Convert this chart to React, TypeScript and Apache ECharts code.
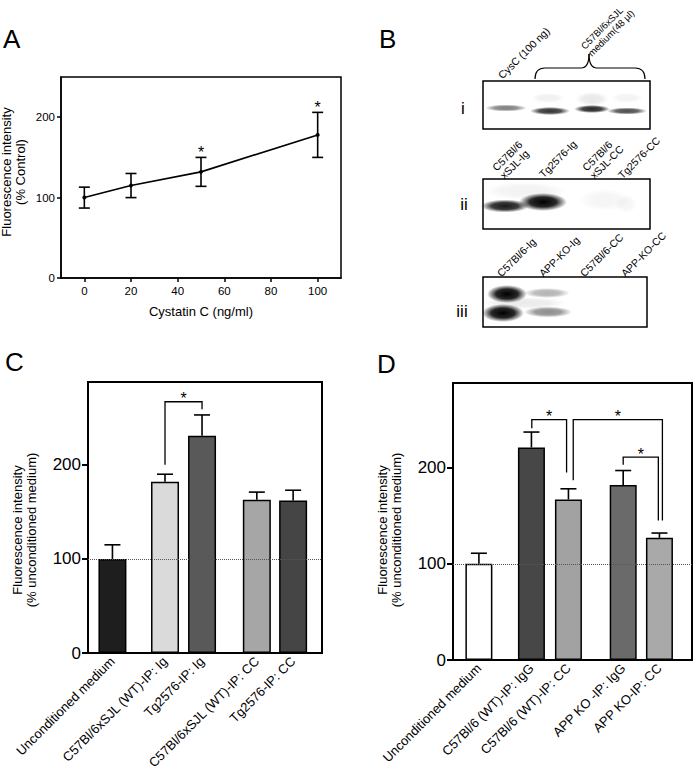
import React, { useEffect, useRef } from "react";
import * as echarts from "echarts";

const FONT = "'Liberation Sans', Arial, Helvetica, sans-serif";

// ---------- Panel A data ----------
const doseA = [0, 20, 50, 100];
const meanA = [100, 115, 132, 178];
const semA = [13, 15, 18, 28];
const sigA = [false, false, true, true];
const xTicksA = [0, 20, 40, 60, 80, 100];
const yTicks = [0, 100, 200];

// ---------- Panel C data ----------
const labelsC = [
  "Unconditioned medium",
  "C57Bl/6xSJL (WT)-IP: Ig",
  "Tg2576-IP: Ig",
  "C57Bl/6xSJL (WT)-IP: CC",
  "Tg2576-IP: CC",
];
const meanC = [100, 182, 231, 163, 162];
const semC = [15, 8, 22, 8, 11];
// [leftX, rightX, top, leftBottom, rightBottom]
const bracketsC = [[1.42, 2.42, 267, 200, 259]];

// ---------- Panel D data ----------
const labelsD = [
  "Unconditioned medium",
  "C57Bl/6 (WT)-IP: IgG",
  "C57Bl/6 (WT)-IP: CC",
  "APP KO -IP: IgG",
  "APP KO-IP: CC",
];
const meanD = [100, 221, 167, 182, 127];
const semD = [11, 16, 11, 15, 5];
const bracketsD = [
  [1.43, 2.37, 250, 241, 195],
  [2.55, 4.96, 250, 187, 145],
  [3.9, 4.85, 211, 203, 145],
];

// bar slot positions (grouped layout)
const slots = [0, 1.42, 2.42, 3.9, 4.88];

// styles
const colorsC = ["#1e1e1e", "#dadada", "#595959", "#a6a6a6", "#454545"];
const colorsD = ["#ffffff", "#474747", "#a2a2a2", "#6a6a6a", "#a9a9a9"];

function nearestIdx(v: number) {
  let best = 0;
  for (let i = 0; i < slots.length; i++) {
    if (Math.abs(slots[i] - v) < Math.abs(slots[best] - v)) best = i;
  }
  return Math.abs(slots[best] - v) < 0.05 ? best : -1;
}

function errorRenderer(capHalf: number, both: boolean, sig?: boolean[]) {
  return (params: any, api: any) => {
    const x = api.value(0);
    const m = api.value(1);
    const e = api.value(2);
    const top = api.coord([x, m + e]);
    const bot = api.coord([x, both ? m - e : m]);
    const style = { stroke: "#000", lineWidth: 1.6 };
    const children: any[] = [
      { type: "line", shape: { x1: top[0], y1: top[1], x2: bot[0], y2: bot[1] }, style },
      { type: "line", shape: { x1: top[0] - capHalf, y1: top[1], x2: top[0] + capHalf, y2: top[1] }, style },
    ];
    if (both) {
      children.push({ type: "line", shape: { x1: bot[0] - capHalf, y1: bot[1], x2: bot[0] + capHalf, y2: bot[1] }, style });
    }
    if (sig && sig[params.dataIndex]) {
      children.push({
        type: "text",
        x: top[0],
        y: top[1] - 5,
        style: { text: "*", fill: "#000", font: `16px ${FONT}`, align: "center", verticalAlign: "middle", textAlign: "center", textVerticalAlign: "middle" },
      });
    }
    return { type: "group", children };
  };
}

function bracketRenderer(params: any, api: any) {
  const x1 = api.value(0), x2 = api.value(1), yt = api.value(2), yl = api.value(3), yr = api.value(4);
  const a = api.coord([x1, yl]);
  const b = api.coord([x1, yt]);
  const c = api.coord([x2, yt]);
  const d = api.coord([x2, yr]);
  return {
    type: "group",
    children: [
      { type: "polyline", shape: { points: [a, b, c, d] }, style: { stroke: "#000", fill: null, lineWidth: 1.3 } },
      {
        type: "text",
        x: (b[0] + c[0]) / 2,
        y: b[1] - 3,
        style: { text: "*", fill: "#000", font: `16px ${FONT}`, align: "center", verticalAlign: "middle", textAlign: "center", textVerticalAlign: "middle" },
      },
    ],
  };
}

function band(cx: number, cy: number, rx: number, ry: number, a: number) {
  return {
    type: "ellipse",
    shape: { cx, cy, rx, ry },
    style: {
      fill: {
        type: "radial",
        x: 0.5,
        y: 0.5,
        r: 0.5,
        colorStops: [
          { offset: 0, color: `rgba(0,0,0,${a})` },
          { offset: 0.55, color: `rgba(0,0,0,${a * 0.85})` },
          { offset: 1, color: "rgba(0,0,0,0)" },
        ],
      },
    },
    z: 5,
  };
}

function txt(text: string, x: number, y: number, size: number, opts: any = {}) {
  const align = opts.align || "left";
  const va = opts.va || "middle";
  return {
    type: "text",
    x,
    y,
    rotation: opts.rotation || 0,
    z: 10,
    style: {
      text,
      fill: "#000",
      font: `${size}px ${FONT}`,
      align,
      verticalAlign: va,
      textAlign: align,
      textVerticalAlign: va,
      lineHeight: opts.lineHeight,
    },
  };
}

function blotBox(x: number, y: number, w: number, h: number) {
  return { type: "rect", shape: { x, y, width: w, height: h }, style: { fill: "#fff", stroke: "#000", lineWidth: 1.5 }, z: 4 };
}

function laneLabel(text: string, x: number, y: number, size = 10.5) {
  return txt(text, x, y, size, { rotation: Math.PI / 4, va: "bottom", lineHeight: size + 0.5 });
}

const axisLineStyle = { color: "#000", width: 2 };

function buildOption() {
  const braceStyle = { stroke: "#000", lineWidth: 1.2, fill: null };
  const graphic: any[] = [
    // panel letters
    txt("A", 3, 39, 26),
    txt("B", 379, 39, 26),
    txt("C", 5, 362, 26),
    txt("D", 377, 364, 26),
    // y axis names
    txt("Fluorescence intensity\n(% Control)", 13, 172, 13, { rotation: Math.PI / 2, align: "center", lineHeight: 14 }),
    txt("Fluorescence intensity\n(% unconditioned medium)", 24, 530, 13, { rotation: Math.PI / 2, align: "center", lineHeight: 14 }),
    txt("Fluorescence intensity\n(% unconditioned medium)", 389, 530, 13, { rotation: Math.PI / 2, align: "center", lineHeight: 14 }),
    // blot boxes
    blotBox(483, 81, 167, 48),
    blotBox(483, 179, 167, 50),
    blotBox(483, 277, 164, 50),
    // roman numerals
    txt("i", 463, 108, 17, { align: "center" }),
    txt("ii", 464, 204, 17, { align: "center" }),
    txt("iii", 462, 311, 17, { align: "center" }),
    // blot i bands
    band(506, 108, 21, 3.5, 0.5),
    band(550, 111, 20, 4, 0.8),
    band(592, 109, 18, 4, 0.85),
    band(627, 111, 20, 3.5, 0.7),
    band(548, 98, 17, 5, 0.06),
    band(592, 99, 16, 7, 0.09),
    band(627, 98, 16, 5, 0.05),
    // blot ii bands
    band(525, 191, 42, 9, 0.05),
    band(505, 206, 24, 6.5, 0.9),
    band(543, 202, 24, 9, 1),
    band(605, 200, 26, 11, 0.04),
    band(626, 204, 11, 9, 0.04),
    // blot iii bands
    band(525, 303, 42, 6, 0.08),
    band(507, 294, 20, 9, 1),
    band(503, 313, 21, 9, 1),
    band(547, 293, 23, 5, 0.3),
    band(548, 312, 24, 5.5, 0.45),
    // brace
    { type: "bezierCurve", shape: { x1: 535, y1: 79, x2: 545, y2: 68, cpx1: 535, cpy1: 68 }, style: braceStyle, z: 6 },
    { type: "line", shape: { x1: 545, y1: 68, x2: 581, y2: 68 }, style: braceStyle, z: 6 },
    { type: "bezierCurve", shape: { x1: 581, y1: 68, x2: 589, y2: 54, cpx1: 589, cpy1: 68 }, style: braceStyle, z: 6 },
    { type: "bezierCurve", shape: { x1: 589, y1: 54, x2: 597, y2: 68, cpx1: 589, cpy1: 68 }, style: braceStyle, z: 6 },
    { type: "line", shape: { x1: 597, y1: 68, x2: 635, y2: 68 }, style: braceStyle, z: 6 },
    { type: "bezierCurve", shape: { x1: 635, y1: 68, x2: 645, y2: 79, cpx1: 645, cpy1: 68 }, style: braceStyle, z: 6 },
    // blot labels
    laneLabel("CysC (100 ng)", 504, 81),
    laneLabel("C57Bl/6xSJL\nmedium(48 µl)", 593, 58, 9.5),
    laneLabel("C57Bl/6\nxSJL-Ig", 506, 181),
    laneLabel("Tg2576-Ig", 545, 180),
    laneLabel("C57Bl/6\nxSJL-CC", 596, 181),
    laneLabel("Tg2576-CC", 624, 181),
    laneLabel("C57Bl/6-Ig", 503, 279),
    laneLabel("APP-KO-Ig", 545, 279),
    laneLabel("C57Bl/6-CC", 586, 279),
    laneLabel("APP-KO-CC", 627, 279),
  ];

  const gridBase = { show: true, borderColor: "#000", borderWidth: 2, backgroundColor: "transparent", containLabel: false };

  const barXAxis = (gi: number, min: number, max: number, labels: string[]) => ({
    gridIndex: gi,
    type: "value",
    min,
    max,
    axisLine: { show: true, onZero: false, lineStyle: axisLineStyle },
    axisTick: { show: false },
    splitLine: { show: false },
    axisLabel: {
      customValues: slots,
      rotate: 45,
      margin: 6,
      fontSize: 13,
      fontFamily: FONT,
      color: "#000",
      formatter: (v: number) => {
        const i = nearestIdx(v);
        return i >= 0 ? labels[i] : "";
      },
    },
  });

  const barYAxis = (gi: number) => ({
    gridIndex: gi,
    type: "value",
    min: 0,
    max: 288,
    axisLine: { show: true, onZero: false, lineStyle: axisLineStyle },
    axisTick: { show: true, customValues: yTicks, length: 6, lineStyle: { color: "#000", width: 2 } },
    axisLabel: { customValues: yTicks, fontSize: 17, fontFamily: FONT, color: "#000", margin: 7 },
    splitLine: { show: false },
  });

  const refLine = (gi: number) => ({
    type: "line",
    xAxisIndex: gi,
    yAxisIndex: gi,
    data: [],
    z: 1,
    markLine: {
      silent: true,
      symbol: "none",
      animation: false,
      label: { show: false },
      lineStyle: { type: "dotted", color: "#555", width: 1 },
      data: [{ yAxis: 100 }],
    },
  });

  return {
    animation: false,
    backgroundColor: "#fff",
    textStyle: { fontFamily: FONT },
    grid: [
      { ...gridBase, left: 61, top: 77, width: 280, height: 201, borderWidth: 1.5 },
      { ...gridBase, left: 88, top: 382, width: 234, height: 276 },
      { ...gridBase, left: 453, top: 383, width: 239, height: 277 },
    ],
    xAxis: [
      {
        gridIndex: 0,
        type: "value",
        min: -10,
        max: 110,
        name: "Cystatin C (ng/ml)",
        nameLocation: "middle",
        nameGap: 27,
        nameTextStyle: { fontSize: 13, fontFamily: FONT, color: "#000" },
        axisLine: { show: true, onZero: false, lineStyle: { color: "#000", width: 1.5 } },
        axisTick: { show: true, customValues: xTicksA, length: 4, lineStyle: { color: "#000", width: 1.5 } },
        axisLabel: { customValues: xTicksA, fontSize: 11.5, fontFamily: FONT, color: "#000", margin: 7 },
        splitLine: { show: false },
      },
      barXAxis(1, -0.66, 5.66, labelsC),
      barXAxis(2, -0.7, 5.76, labelsD),
    ],
    yAxis: [
      {
        gridIndex: 0,
        type: "value",
        min: 0,
        max: 250,
        axisLine: { show: true, onZero: false, lineStyle: { color: "#000", width: 1.5 } },
        axisTick: { show: true, customValues: yTicks, length: 4, lineStyle: { color: "#000", width: 1.5 } },
        axisLabel: { customValues: yTicks, fontSize: 11.5, fontFamily: FONT, color: "#000", margin: 6 },
        splitLine: { show: false },
      },
      barYAxis(1),
      barYAxis(2),
    ],
    graphic,
    series: [
      {
        type: "line",
        xAxisIndex: 0,
        yAxisIndex: 0,
        data: doseA.map((d, i) => [d, meanA[i]]),
        symbol: "circle",
        symbolSize: 4,
        lineStyle: { color: "#000", width: 1.6 },
        itemStyle: { color: "#000" },
        z: 3,
      },
      {
        type: "custom",
        xAxisIndex: 0,
        yAxisIndex: 0,
        data: doseA.map((d, i) => [d, meanA[i], semA[i]]),
        renderItem: errorRenderer(5.5, true, sigA),
        z: 4,
      },
      refLine(1),
      refLine(2),
      {
        type: "bar",
        xAxisIndex: 1,
        yAxisIndex: 1,
        barWidth: 28,
        data: meanC.map((v, i) => ({ value: [slots[i], v], itemStyle: { color: colorsC[i] } })),
        itemStyle: { borderColor: "#000", borderWidth: 1.5 },
        z: 3,
      },
      {
        type: "custom",
        xAxisIndex: 1,
        yAxisIndex: 1,
        data: meanC.map((v, i) => [slots[i], v, semC[i]]),
        renderItem: errorRenderer(8, false),
        z: 4,
      },
      {
        type: "custom",
        xAxisIndex: 1,
        yAxisIndex: 1,
        dimensions: ["x1", "x2", "yt", "yl", "yr"],
        encode: { x: [0, 1], y: [2, 3, 4] },
        data: bracketsC,
        renderItem: bracketRenderer,
        z: 5,
      },
      {
        type: "bar",
        xAxisIndex: 2,
        yAxisIndex: 2,
        barWidth: 27,
        data: meanD.map((v, i) => ({ value: [slots[i], v], itemStyle: { color: colorsD[i] } })),
        itemStyle: { borderColor: "#000", borderWidth: 1.5 },
        z: 3,
      },
      {
        type: "custom",
        xAxisIndex: 2,
        yAxisIndex: 2,
        data: meanD.map((v, i) => [slots[i], v, semD[i]]),
        renderItem: errorRenderer(8, false),
        z: 4,
      },
      {
        type: "custom",
        xAxisIndex: 2,
        yAxisIndex: 2,
        dimensions: ["x1", "x2", "yt", "yl", "yr"],
        encode: { x: [0, 1], y: [2, 3, 4] },
        data: bracketsD,
        renderItem: bracketRenderer,
        z: 5,
      },
    ],
  };
}

export default function App() {
  const ref = useRef<HTMLDivElement>(null);
  useEffect(() => {
    document.body.style.margin = "0";
    const chart = echarts.init(ref.current!, null, { renderer: "svg" });
    chart.setOption(buildOption() as any);
    return () => chart.dispose();
  }, []);
  return (
    <div
      ref={ref}
      style={{ position: "absolute", left: 0, top: 0, width: 693, height: 772, background: "#fff" }}
    />
  );
}
